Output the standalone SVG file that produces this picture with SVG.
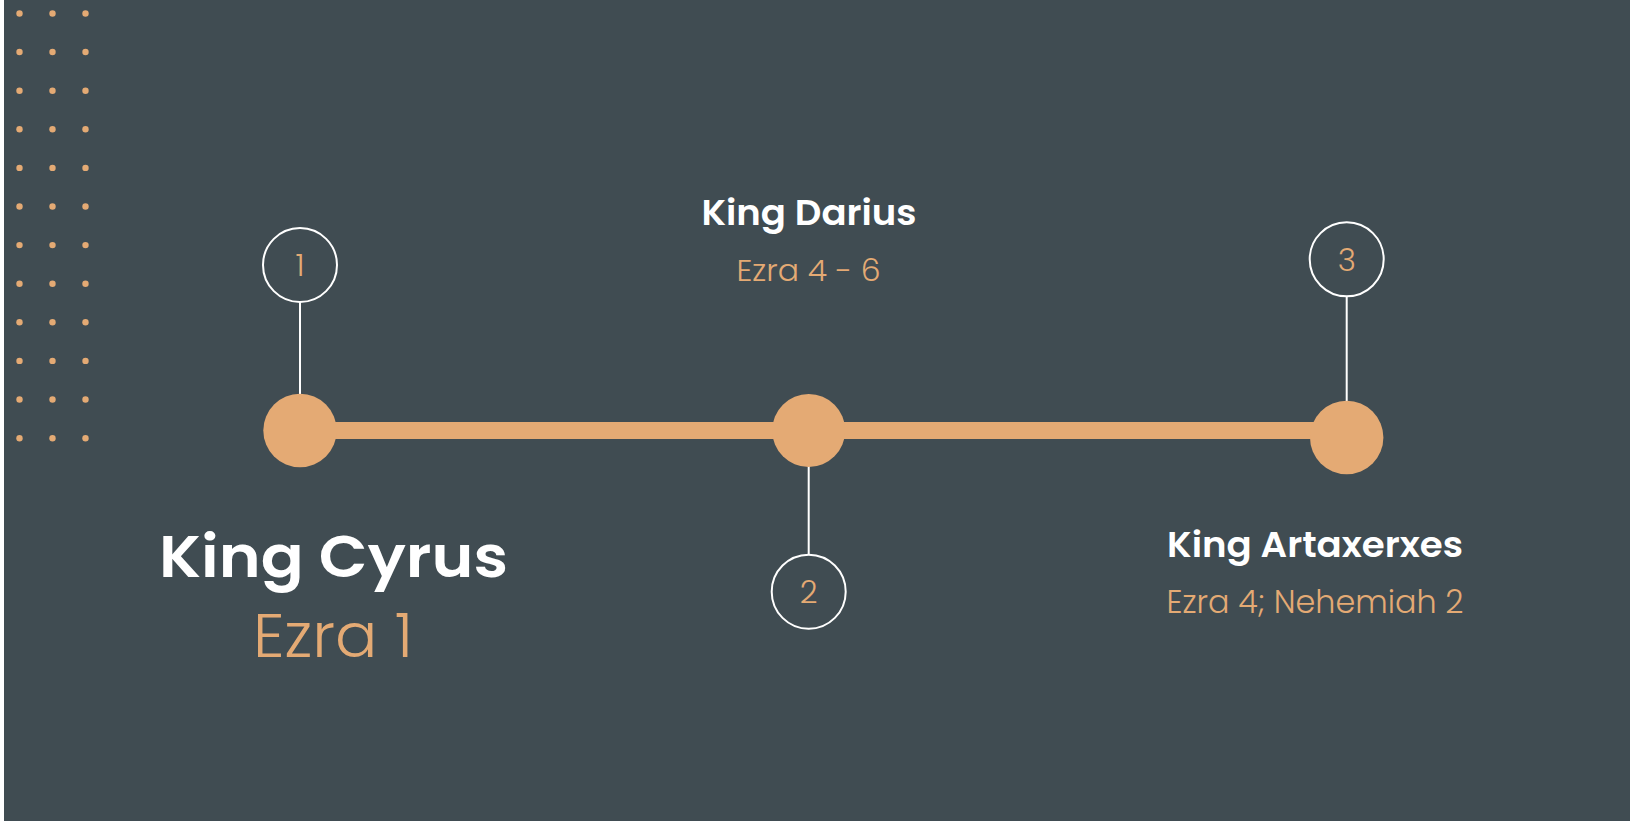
<svg xmlns="http://www.w3.org/2000/svg" width="1633" height="821" viewBox="0 0 1633 821">
<defs>
<style>
.bg{fill:#404C52}
.dot{fill:#E4AA74}
.bar{fill:#E4AA74}
.hub{fill:#E4AA74}
.ring{fill:none;stroke:#FFFFFF;stroke-width:2}
.stem{stroke:#FFFFFF;stroke-width:2}
.num{font-family:"Poppins","Lato","Open Sans",sans-serif;font-weight:300;fill:#E4AA74;text-anchor:middle}
.name{font-family:"Poppins","Lato","Open Sans",sans-serif;font-weight:600;fill:#FFFFFF;text-anchor:middle}
.ref{font-family:"Poppins","Lato","Open Sans",sans-serif;font-weight:300;fill:#E4AA74;text-anchor:middle}
</style>
</defs>
<rect x="0" y="0" width="1633" height="821" fill="#FFFFFF"/>
<rect class="bg" x="4" y="0" width="1626" height="821"/>
<g id="dots">
<g class="dot">
<circle cx="19.5" cy="13.5" r="3.2"/><circle cx="52.5" cy="13.5" r="3.2"/><circle cx="85.5" cy="13.5" r="3.2"/>
<circle cx="19.5" cy="52" r="3.2"/><circle cx="52.5" cy="52" r="3.2"/><circle cx="85.5" cy="52" r="3.2"/>
<circle cx="19.5" cy="90.7" r="3.2"/><circle cx="52.5" cy="90.7" r="3.2"/><circle cx="85.5" cy="90.7" r="3.2"/>
<circle cx="19.5" cy="129.3" r="3.2"/><circle cx="52.5" cy="129.3" r="3.2"/><circle cx="85.5" cy="129.3" r="3.2"/>
<circle cx="19.5" cy="167.9" r="3.2"/><circle cx="52.5" cy="167.9" r="3.2"/><circle cx="85.5" cy="167.9" r="3.2"/>
<circle cx="19.5" cy="206.5" r="3.2"/><circle cx="52.5" cy="206.5" r="3.2"/><circle cx="85.5" cy="206.5" r="3.2"/>
<circle cx="19.5" cy="245.1" r="3.2"/><circle cx="52.5" cy="245.1" r="3.2"/><circle cx="85.5" cy="245.1" r="3.2"/>
<circle cx="19.5" cy="283.7" r="3.2"/><circle cx="52.5" cy="283.7" r="3.2"/><circle cx="85.5" cy="283.7" r="3.2"/>
<circle cx="19.5" cy="322.3" r="3.2"/><circle cx="52.5" cy="322.3" r="3.2"/><circle cx="85.5" cy="322.3" r="3.2"/>
<circle cx="19.5" cy="360.9" r="3.2"/><circle cx="52.5" cy="360.9" r="3.2"/><circle cx="85.5" cy="360.9" r="3.2"/>
<circle cx="19.5" cy="399.5" r="3.2"/><circle cx="52.5" cy="399.5" r="3.2"/><circle cx="85.5" cy="399.5" r="3.2"/>
<circle cx="19.5" cy="438.3" r="3.2"/><circle cx="52.5" cy="438.3" r="3.2"/><circle cx="85.5" cy="438.3" r="3.2"/>
</g>
</g>
<g id="connectors">
<rect class="bar" x="300" y="422" width="1047" height="17"/>
<line class="stem" x1="300" y1="302" x2="300" y2="396"/>
<line class="stem" x1="808.7" y1="466" x2="808.7" y2="554"/>
<line class="stem" x1="1346.7" y1="297" x2="1346.7" y2="402"/>
</g>
<g id="node-1">
<circle class="hub" cx="300" cy="430.5" r="36.7"/>
<circle class="ring" cx="300" cy="265" r="37"/>
<text class="num" x="300" y="276" font-size="31">1</text>
<text class="name" x="333.5" y="576.5" font-size="58" textLength="349" lengthAdjust="spacingAndGlyphs">King Cyrus</text>
<text class="ref" x="333" y="657" font-size="62" textLength="160" lengthAdjust="spacingAndGlyphs">Ezra 1</text>
</g>
<g id="node-2">
<circle class="hub" cx="808.7" cy="430.5" r="36.5"/>
<circle class="ring" cx="808.7" cy="591.7" r="37"/>
<text class="num" x="808.7" y="603" font-size="31">2</text>
<text class="name" x="809" y="225" font-size="35" textLength="215" lengthAdjust="spacingAndGlyphs">King Darius</text>
<text class="ref" x="808.5" y="280.5" font-size="30.5" textLength="144" lengthAdjust="spacingAndGlyphs">Ezra 4 - 6</text>
</g>
<g id="node-3">
<circle class="hub" cx="1346.7" cy="437.5" r="36.7"/>
<circle class="ring" cx="1346.7" cy="259.3" r="37"/>
<text class="num" x="1346.7" y="270.5" font-size="31">3</text>
<text class="name" x="1315" y="557" font-size="35" textLength="296" lengthAdjust="spacingAndGlyphs">King Artaxerxes</text>
<text class="ref" x="1315" y="612.5" font-size="31.5" textLength="297" lengthAdjust="spacingAndGlyphs">Ezra 4; Nehemiah 2</text>
</g>
</svg>
